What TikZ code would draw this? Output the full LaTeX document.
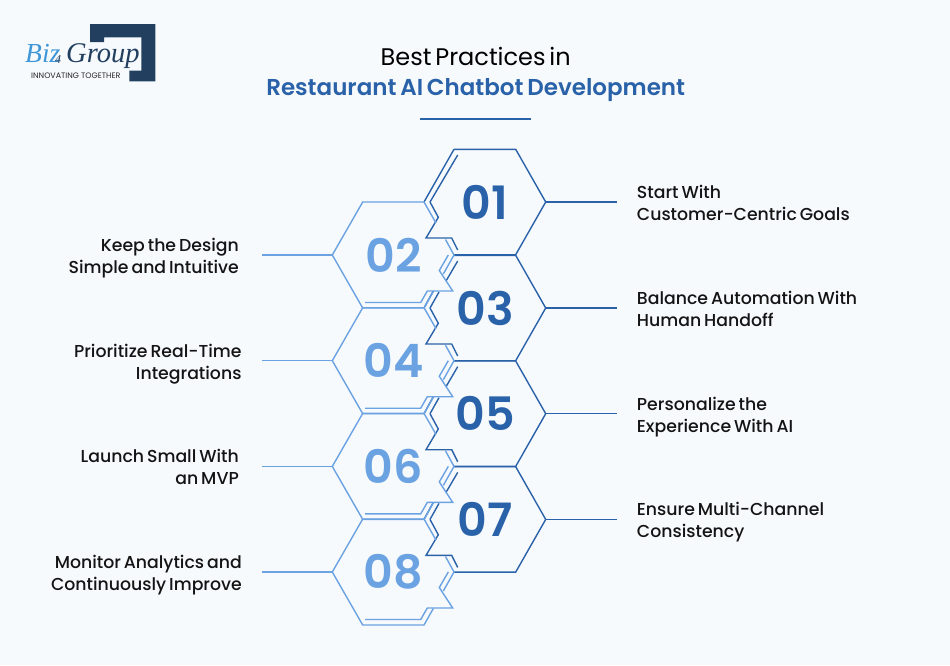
\documentclass[tikz,border=0pt]{standalone}
\usepackage{fontspec}
\setmainfont{Poppins}
\newfontfamily\medf[WordSpace=0.65]{Poppins Medium}
\newfontfamily\regf[WordSpace=0.6]{Poppins}
\newfontfamily\semif[WordSpace=0.7]{Poppins SemiBold}
\newfontfamily\logof{Liberation Serif}
\definecolor{bgc}{HTML}{F7FAFD}
\definecolor{darkb}{HTML}{2A62A9}
\definecolor{lightb}{HTML}{6AA2E2}
\definecolor{navy}{HTML}{223F60}
\definecolor{sky}{HTML}{3F97D8}
\tikzset{
  darkline/.style={draw=darkb,line width=1.4pt,line join=miter},
  lightline/.style={draw=lightb,line width=1.4pt,line join=miter},
  numdark/.style={text=darkb,font=\semif\fontsize{46}{46}\selectfont,inner sep=0pt},
  numlight/.style={text=lightb,font=\semif\fontsize{46}{46}\selectfont,inner sep=0pt},
  lab/.style={text=black!92,font=\medf\fontsize{17.3}{22}\selectfont,inner sep=0pt},
}
\newcommand{\darkunit}[4]{% name, centre y, number, first?
  \begin{scope}[shift={(0,#2)}]
    \coordinate (v#1) at (545.7,0);
    \coordinate (e#1) at (617,0);
    \draw[darkline] (454,-52.7) -- (515.7,-52.7) -- (v#1) -- (515.7,52.7) -- (454,52.7);
    \ifnum#4=1
      \draw[darkline] (454,-52.7) -- (424,0);
      \draw[darkline] (457.7,-47) -- (430,0);
    \else
      \draw[darkline] (433.3,-17) -- (424,0);
      \draw[darkline] (457.7,-47) -- (446,-27);
      \draw[darkline] (439,-16) -- (430,0);
    \fi
    \draw[darkline] (430,0) -- (438.3,15.3) -- (426,36) -- (451.7,36) -- (457.7,48);
    \draw[darkline] (v#1) -- (e#1);
    \node[numdark] (n#1) at (485,0) {#3};
  \end{scope}
}
\newcommand{\lightunit}[3]{% name, centre y, number
  \begin{scope}[shift={(0,#2)}]
    \coordinate (v#1) at (332.3,0);
    \coordinate (e#1) at (262,0);
    \draw[lightline] (436,-32) -- (424,-53) -- (362.7,-53) -- (v#1) -- (362.7,53) -- (424,53) -- (433.3,36.5);
    \draw[lightline] (445.5,-15.5) -- (454,0) -- (443.3,19);
    \draw[lightline] (448.3,0) -- (439.3,15.5) -- (452.7,36) -- (427.3,36) -- (420.7,47.5) -- (365,47.5);
    \draw[lightline] (v#1) -- (e#1);
    \node[numlight] (n#1) at (393.5,0) {#3};
  \end{scope}
}
\begin{document}
\begin{tikzpicture}[x=1pt,y=-1pt]
\path[use as bounding box,fill=bgc] (0,0) rectangle (950,665);
% logo
\fill[navy] (90,24) -- (155.3,24) -- (155.3,81.3) -- (129.3,81.3) -- (129.3,70.7) -- (141.3,70.7) -- (141.3,37.3) -- (104,37.3) -- (104,42) -- (90,42) -- cycle;
\node[anchor=base west,inner sep=0pt,text=sky,font=\logof\itshape\fontsize{27.5}{28}\selectfont] (lbiz) at (25,62) {Biz};
\node[anchor=base west,inner sep=0pt,text=navy,font=\logof\itshape\fontsize{12}{12}\selectfont] (lfour) at (55,63) {4};
\node[anchor=base west,inner sep=0pt,text=navy,font=\logof\itshape\fontsize{28.5}{29}\selectfont] (lgroup) at (66,62) {Group};
\node[anchor=base west,inner sep=0pt,text=black!85,font=\fontsize{7.9}{8}\selectfont] (ltag) at (31,78.5) {INNOVATING TOGETHER};
% title
\node[anchor=base,inner sep=0pt,text=black,font=\regf\fontsize{24}{26}\selectfont] (t1) at (475.7,65) {Best Practices in};
\node[anchor=base,inner sep=0pt,text=darkb,font=\semif\fontsize{23}{26}\selectfont] (t2) at (475.7,95) {Restaurant AI Chatbot Development};
\coordinate (ba) at (419.5,119.3);
\coordinate (bb) at (530.7,119.3);
\draw[darkb,line width=2pt] (ba) -- (bb);
% units
\darkunit{a}{202}{01}{1}
\darkunit{c}{308}{03}{0}
\darkunit{e}{413.7}{05}{0}
\darkunit{g}{519.4}{07}{0}
\lightunit{b}{255}{02}
\lightunit{d}{360.7}{04}
\lightunit{f}{466.4}{06}
\lightunit{h}{572}{08}
% labels right
\node[lab,anchor=base west,align=left] (la) at (636.7,220) {Start With\\Customer-Centric Goals};
\node[lab,anchor=base west,align=left] (lc) at (636.7,326) {Balance Automation With\\Human Handoff};
\node[lab,anchor=base west,align=left] (le) at (636.7,432) {Personalize the\\Experience With AI};
\node[lab,anchor=base west,align=left] (lg) at (636.7,537.5) {Ensure Multi-Channel\\Consistency};
% labels left
\node[lab,anchor=base east,align=right] (lb) at (239,273) {Keep the Design\\Simple and Intuitive};
\node[lab,anchor=base east,align=right] (ld) at (241.7,379) {Prioritize Real-Time\\Integrations};
\node[lab,anchor=base east,align=right] (lf) at (239,484.5) {Launch Small With\\an MVP};
\node[lab,anchor=base east,align=right] (lh) at (242,590.5) {Monitor Analytics and\\Continuously Improve};
\end{tikzpicture}
\end{document}
